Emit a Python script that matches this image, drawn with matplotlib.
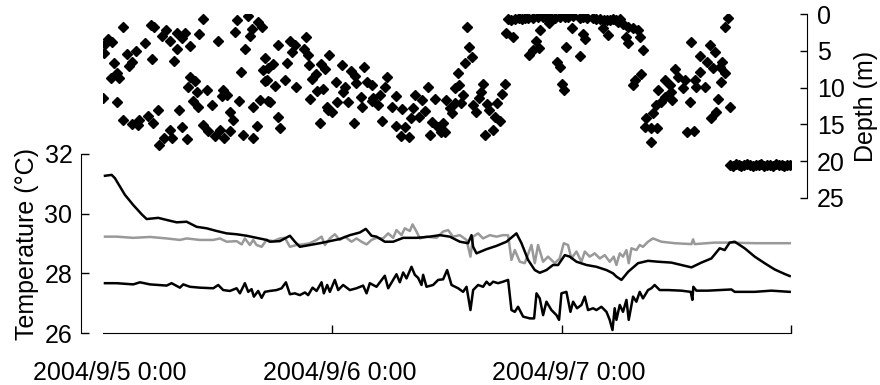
import numpy as np
import matplotlib
matplotlib.use('Agg')
import matplotlib.pyplot as plt
import matplotlib.transforms as mtransforms

plt.rcParams['font.family'] = ['Liberation Sans', 'DejaVu Sans']
plt.rcParams['font.size'] = 18

# hours since 2004/9/5 0:00 and tag depth (m)
tag_h = [2.06, 5.02, 5.33, 6.59, 6.14, 7.01, 7.77, 8.58, 8.23, 9.10, 7.77, 7.43, 10.07, 10.43, 12.06,
         13.98, 15.20, 16.24, 16.60, 15.55, 13.84, 15.37, 14.85, 16.94, 14.40, 16.70, 16.94, 0.55, 0.91,
         0.21, 0.10, 2.48, 3.45, 4.39, 5.09, 3.00, 2.75, 1.15, 1.43, 0.81, 1.70, 0.0, 1.50, 2.12, 3.00,
         3.80, 3.69, 4.74, 5.78, 5.26, 7.98, 5.89, 7.01, 7.18, 6.38, 8.23, 8.75, 9.10, 9.62, 8.92, 9.80,
         10.91, 12.58, 12.94, 12.41, 9.44, 9.97, 11.37, 14.25, 13.28, 13.63, 15.72, 16.42, 17.29, 10.49,
         11.01, 11.71, 12.24, 12.65, 13.28, 14.67, 15.72, 16.07,
         21.20, 19.56, 18.27, 20.08, 21.05, 19.73, 21.41, 23.64, 17.81, 19.21, 17.29, 21.54, 22.80, 23.22,
         25.03, 25.94, 27.33, 22.24, 21.89, 26.35, 17.12, 19.03, 17.99, 20.15, 24.34, 25.31, 25.13, 26.43,
         27.58, 28.16, 29.77, 29.49, 33.96, 22.35, 23.04, 21.65, 24.44, 25.65, 27.05, 28.27, 28.97, 30.71,
         32.70, 33.33, 34.79, 17.46, 23.39, 23.92, 23.56, 27.12, 28.10, 28.79, 30.19, 31.24, 32.45, 33.67,
         29.15, 32.28, 33.05, 34.38, 35.07, 18.33, 18.51, 22.69, 26.28, 30.71, 31.58, 31.16, 32.00, 34.20,
         35.42,
         42.35, 43.09, 43.82, 44.45, 44.97, 46.02, 46.75, 47.27, 48.32, 49.15, 49.88, 50.62, 51.24, 51.98,
         52.71, 53.34, 54.07, 42.7, 43.5, 44.2, 45.5, 46.4, 47.8, 48.7, 50.2, 51.6, 52.4, 53.0, 53.7,
         46.67, 45.70, 49.12, 50.23, 50.41, 52.32, 52.84, 42.22, 42.91, 38.10, 45.28, 45.63, 45.00, 44.58,
         48.49, 49.88, 47.51, 47.87, 48.08, 48.21, 38.31, 38.56, 37.86, 37.16, 37.26, 36.81, 37.68, 35.94,
         36.81, 37.51, 36.29, 36.47, 35.59, 35.77, 39.77, 39.60, 39.35, 42.04, 41.70, 38.73, 39.01, 40.13,
         40.40, 41.24, 41.00, 41.52, 40.82, 39.95,
         53.89, 54.41, 54.94, 55.46, 55.98, 56.16, 54.77, 54.94, 56.50, 61.49, 63.48, 64.00, 62.43, 63.24,
         64.77, 64.53, 63.82, 62.43, 59.82, 65.05, 64.63, 65.39, 65.05, 56.34, 55.64, 55.46, 60.16, 60.87,
         58.77, 59.30, 60.69, 61.91, 62.09, 62.96, 58.07, 59.47, 58.77, 59.54, 58.43, 57.91, 61.39, 64.35,
         65.57, 64.18, 63.66, 57.55, 56.86, 56.76, 57.38, 58.01, 61.15, 61.84, 57.38,
         65.6, 65.9, 66.2, 66.5, 66.8, 67.1, 67.4, 67.7, 68.0, 68.3, 68.6, 68.9, 69.2, 69.5, 69.8, 70.1,
         70.4, 70.7, 71.0, 71.3, 71.6, 71.9]
tag_d = [1.81, 1.49, 1.81, 2.17, 2.99, 3.63, 2.62, 2.62, 3.30, 4.35, 4.80, 6.39, 2.72, 0.68, 3.63,
         0.82, 0.27, 1.05, 1.73, 2.08, 2.45, 2.99, 4.80, 6.02, 7.84, 7.61, 9.06, 3.44, 3.76,
         4.08, 5.26, 5.44, 4.99, 3.90, 6.16, 6.48, 7.07, 6.62, 8.06, 8.74, 8.74, 11.46, 12.00, 14.41, 14.95,
         14.41, 15.08, 13.86, 13.05, 14.85, 13.05, 17.80, 15.76, 16.89, 16.89, 15.40, 17.03, 8.52, 9.06, 9.88, 10.56,
         10.33, 10.33, 11.01, 11.14, 11.78, 12.60, 12.37, 11.78, 13.28, 14.41, 12.68, 11.69, 11.78, 15.08,
         15.86, 16.58, 15.76, 16.89, 15.86, 16.44, 16.81, 15.22,
         3.08, 3.63, 4.21, 4.21, 4.80, 5.12, 5.57, 5.57, 6.80, 6.70, 7.38, 6.93, 6.80, 7.52,
         6.93, 7.71, 7.24, 8.15, 8.87, 8.43, 8.97, 8.97, 9.78, 9.96, 9.20, 9.88, 10.56, 9.34,
         9.20, 9.65, 8.52, 9.88, 9.96, 10.42, 10.23, 11.59, 11.92, 11.92, 11.32, 11.46, 11.01, 11.14,
         11.01, 11.69, 11.59, 11.92, 12.60, 13.28, 13.05, 12.68, 11.78, 12.37, 12.68, 12.95, 12.82, 13.14,
         14.50, 14.17, 13.96, 14.64, 15.32, 14.04, 15.53, 14.85, 14.85, 15.22, 15.40, 16.58, 16.67, 16.44,
         16.00,
         0.68, 0.68, 0.68, 0.50, 0.58, 0.37, 0.37, 0.58, 0.37, 0.27, 0.50, 0.50, 0.58, 0.68,
         0.82, 0.68, 0.68, 0.75, 0.60, 0.55, 0.45, 0.40, 0.45, 0.35, 0.45, 0.62, 0.75, 0.80, 0.75,
         1.26, 2.17, 1.86, 2.76, 3.44, 1.94, 2.85, 2.62, 3.08, 1.73, 3.67, 4.58, 4.89, 5.57,
         4.44, 5.67, 6.56, 7.16, 9.55, 10.33, 4.44, 5.80, 6.70, 8.06, 9.65, 10.10, 11.01, 11.69,
         12.14, 12.14, 12.82, 13.49, 14.85, 16.00, 9.55, 10.56, 11.46, 9.55, 10.91, 12.37, 13.28, 12.27,
         13.05, 12.14, 13.96, 14.54, 15.76, 16.44,
         1.05, 1.40, 1.73, 1.94, 2.17, 3.08, 3.08, 3.98, 4.89, 3.76, 4.21, 5.12, 5.67, 6.56,
         6.48, 7.16, 7.38, 7.84, 7.47, 8.06, 9.20, 0.58, 1.73, 8.19, 8.97, 9.65, 8.52, 8.97,
         8.97, 9.65, 10.10, 8.97, 9.88, 9.88, 10.33, 10.64, 11.24, 11.69, 11.92, 12.37, 11.92, 11.55,
         12.60, 13.28, 14.17, 13.49, 14.17, 15.32, 15.45, 15.53, 16.08, 15.90, 17.35,
         20.5, 20.6, 20.4, 20.5, 20.6, 20.5, 20.4, 20.5, 20.6, 20.5, 20.5, 20.4, 20.6, 20.5, 20.5, 20.6,
         20.4, 20.5, 20.5, 20.6, 20.5, 20.5]

# upper black temperature line
t1_h = [0.21, 0.91, 1.25, 2.30, 3.17, 4.05, 4.57, 5.78, 6.66, 7.71, 8.75, 9.80, 10.84, 11.89, 12.94,
        13.98, 15.03, 16.07, 17.12, 17.46, 18.51, 19.56, 20.08, 20.60, 21.65, 22.69, 23.74, 24.78, 25.83,
        26.88, 27.50, 28.10, 28.62, 29.49, 30.36, 31.41, 32.81, 34.20, 35.24, 36.29, 37.34, 38.20, 38.56,
        38.73, 39.08, 40.13, 41.17, 42.22, 43.26, 43.79, 44.48, 45.18, 45.70, 46.40, 47.09, 47.62, 48.32,
        48.84, 49.54, 50.59, 51.63, 52.68, 53.37, 53.72, 54.25, 54.94, 55.98, 57.03, 58.07, 59.47, 60.52,
        61.57, 62.61, 63.66, 64.53, 65.05, 65.57, 66.10, 67.14, 68.19, 69.23, 70.28, 71.32, 71.85]
t1_c = [31.27, 31.30, 31.19, 30.63, 30.29, 29.98, 29.82, 29.86, 29.79, 29.71, 29.73, 29.56, 29.51, 29.42, 29.34,
        29.31, 29.26, 29.19, 29.12, 29.06, 29.08, 29.26, 29.06, 28.89, 28.95, 29.01, 29.08, 29.15, 29.28,
        29.37, 29.49, 29.26, 29.23, 29.06, 29.06, 29.19, 29.19, 29.23, 29.28, 29.23, 29.06, 29.01, 29.28,
        28.89, 28.67, 28.81, 28.92, 29.06, 29.34, 29.01, 28.45, 28.11, 28.02, 28.11, 28.28, 28.28, 28.61,
        28.56, 28.39, 28.28, 28.22, 28.11, 28.00, 27.89, 27.78, 28.05, 28.34, 28.42, 28.39, 28.36, 28.28,
        28.20, 28.36, 28.50, 28.84, 28.78, 29.03, 29.06, 28.84, 28.56, 28.34, 28.13, 27.98, 27.91]

# gray temperature line
t2_h = [0.21, 1.43, 3.17, 4.92, 6.66, 8.05, 8.75, 10.14, 11.54, 12.24, 12.94, 13.98, 14.51, 14.85, 15.37,
        15.72, 16.07, 16.60, 17.12, 17.81, 18.51, 19.03, 19.56, 20.26, 20.95, 21.65, 22.35, 22.87, 23.22,
        23.74, 24.26, 24.78, 25.31, 26.01, 26.53, 27.05, 27.58, 28.10, 28.62, 29.31, 29.84, 30.36, 30.71,
        31.24, 31.58, 32.11, 32.39, 32.81, 33.15, 33.85, 34.90, 35.59, 36.11, 36.63, 37.34, 38.04, 38.45,
        38.73, 39.25, 39.77, 40.47, 41.17, 41.86, 42.39, 42.74, 43.09, 43.61, 44.13, 44.83, 45.18, 45.52,
        46.05, 46.57, 47.27, 47.79, 48.21, 48.66, 49.01, 49.54, 50.06, 50.41, 50.93, 51.45, 51.98, 52.50,
        53.02, 53.44, 53.72, 54.07, 54.41, 54.77, 55.01, 55.29, 55.81, 56.16, 56.50, 57.03, 57.55, 58.43,
        59.82, 61.57, 61.74, 61.91, 64.00, 65.75, 68.19, 71.85]
t2_c = [29.23, 29.23, 29.19, 29.22, 29.17, 29.12, 29.17, 29.12, 29.12, 29.17, 29.06, 29.08, 28.97, 29.17, 28.95,
        29.12, 28.95, 28.89, 29.12, 29.08, 29.17, 29.19, 28.89, 28.95, 28.97, 29.01, 29.12, 29.23, 28.95,
        29.17, 29.31, 29.12, 29.23, 29.06, 29.17, 29.06, 28.97, 29.12, 29.19, 29.17, 29.34, 29.19, 29.45,
        29.28, 29.51, 29.42, 29.64, 29.40, 29.17, 29.23, 29.19, 29.40, 29.45, 29.23, 29.28, 29.12, 28.56,
        29.23, 29.34, 29.17, 29.28, 29.23, 29.28, 29.28, 28.45, 28.78, 28.39, 28.34, 28.95, 28.34, 28.95,
        28.39, 28.56, 28.34, 28.50, 29.01, 28.95, 28.50, 28.73, 28.39, 28.73, 28.56, 28.67, 28.50, 28.61,
        28.39, 28.56, 28.28, 28.67, 28.56, 28.78, 28.34, 28.84, 28.78, 28.95, 28.89, 29.06, 29.17, 29.06,
        29.01, 28.98, 29.14, 28.98, 29.03, 29.03, 29.01, 29.01]

# lower black temperature line
t3_h = [0.21, 1.43, 3.17, 3.87, 4.92, 6.66, 7.18, 8.05, 8.40, 9.10, 10.14, 11.54, 12.06, 12.58, 13.28,
        13.98, 14.33, 14.85, 15.20, 15.55, 15.79, 16.24, 16.60, 16.94, 17.46, 18.17, 18.69, 19.14, 19.56,
        20.08, 20.60, 21.13, 21.47, 21.93, 22.35, 22.87, 23.11, 23.46, 23.74, 24.26, 24.61, 25.13, 25.83,
        26.53, 27.22, 27.58, 27.92, 28.62, 29.49, 29.84, 30.36, 30.71, 31.06, 31.41, 31.76, 32.28, 32.63,
        32.97, 33.33, 33.50, 33.85, 34.54, 35.07, 35.59, 36.01, 36.47, 37.16, 37.68, 38.04, 38.45, 38.73,
        39.25, 39.77, 40.13, 40.47, 40.82, 41.34, 41.86, 42.39, 42.74, 43.09, 43.43, 43.96, 44.66, 45.11,
        45.36, 45.70, 46.05, 46.40, 46.92, 47.45, 47.72, 47.97, 48.49, 48.91, 49.19, 49.60, 50.06, 50.41,
        50.75, 51.28, 51.63, 52.15, 52.68, 53.02, 53.31, 53.54, 53.72, 54.07, 54.41, 54.77, 55.01, 55.46,
        55.81, 56.16, 56.50, 57.03, 57.38, 57.72, 58.25, 59.12, 60.52, 61.49, 61.67, 61.77, 62.09, 63.30,
        65.75, 66.10, 68.19, 69.93, 71.85]
t3_c = [27.67, 27.67, 27.63, 27.70, 27.63, 27.59, 27.67, 27.52, 27.63, 27.55, 27.52, 27.50, 27.61, 27.44, 27.41,
        27.50, 27.33, 27.67, 27.38, 27.47, 27.22, 27.41, 27.18, 27.38, 27.41, 27.44, 27.50, 27.70, 27.30,
        27.33, 27.27, 27.36, 27.27, 27.52, 27.41, 27.70, 27.33, 27.61, 27.38, 27.78, 27.44, 27.61, 27.44,
        27.50, 27.59, 27.33, 27.67, 27.55, 27.92, 27.50, 27.78, 27.97, 27.70, 28.03, 27.83, 28.22, 27.95,
        27.85, 27.61, 27.95, 27.55, 27.61, 27.78, 27.80, 28.11, 27.61, 27.50, 27.38, 27.55, 26.77, 27.44,
        27.61, 27.55, 27.72, 27.61, 27.72, 27.67, 27.72, 27.78, 26.77, 26.71, 26.88, 26.55, 26.49, 26.49,
        27.33, 27.16, 26.60, 27.05, 26.77, 26.60, 26.44, 27.33, 27.38, 26.71, 27.05, 26.83, 26.94, 27.22,
        26.77, 26.83, 26.77, 26.88, 26.71, 26.44, 26.10, 26.83, 26.44, 26.94, 26.71, 27.11, 26.44, 27.22,
        27.05, 27.38, 27.16, 27.44, 27.50, 27.61, 27.44, 27.44, 27.42, 27.38, 27.11, 27.55, 27.42, 27.42,
        27.46, 27.38, 27.38, 27.42, 27.38]

date_ticks = [0, 24, 48, 72]
date_labels = ['2004/9/5 0:00', '2004/9/6 0:00', '2004/9/7 0:00', '']

fig = plt.figure(figsize=(8.8, 3.85), dpi=100)

# temperature panel
ax1 = fig.add_axes([0.117, 0.135, 0.782, 0.465])
ax1.plot(t2_h, t2_c, color='#999999', lw=1.8)
ax1.plot(t1_h, t1_c, color='black', lw=1.8)
ax1.plot(t3_h, t3_c, color='black', lw=1.8)
ax1.set_xlim(0, 72)
ax1.set_ylim(26, 32)
ax1.set_yticks([26, 28, 30, 32])
ax1.set_xticks(date_ticks)
ax1.set_xticklabels(date_labels)
ax1.xaxis.get_major_ticks()[0].tick1line.set_visible(False)
ax1.spines['top'].set_visible(False)
ax1.spines['right'].set_visible(False)
ax1.spines['left'].set_position(('outward', 16))
ax1.tick_params(axis='x', direction='in', length=6, width=1, pad=20)
ax1.tick_params(axis='y', direction='in', length=6, width=1, pad=6)
ax1.set_ylabel('Temperature (°C)', labelpad=4)
ax1.patch.set_visible(False)
# labels sit a little right of their ticks in the original
shift = mtransforms.ScaledTranslation(0.07, 0, fig.dpi_scale_trans)
for lab in ax1.get_xticklabels():
    lab.set_transform(lab.get_transform() + shift)

# depth panel
ax2 = fig.add_axes([0.117, 0.486, 0.782, 0.4776])
ax2.plot(tag_h, tag_d, linestyle='none', marker='D', ms=4.6, color='black')
ax2.set_xlim(0, 72)
ax2.set_ylim(25, 0)
ax2.set_yticks([0, 5, 10, 15, 20, 25])
ax2.set_xticks([])
for s in ['top', 'left', 'bottom']:
    ax2.spines[s].set_visible(False)
ax2.spines['right'].set_position(('outward', 11.5))
ax2.yaxis.tick_right()
ax2.yaxis.set_label_position('right')
ax2.tick_params(axis='y', direction='in', length=5, width=1, pad=7)
ax2.set_ylabel('Depth (m)', labelpad=7)
ax2.patch.set_visible(False)

plt.savefig('out.png', dpi=100)
